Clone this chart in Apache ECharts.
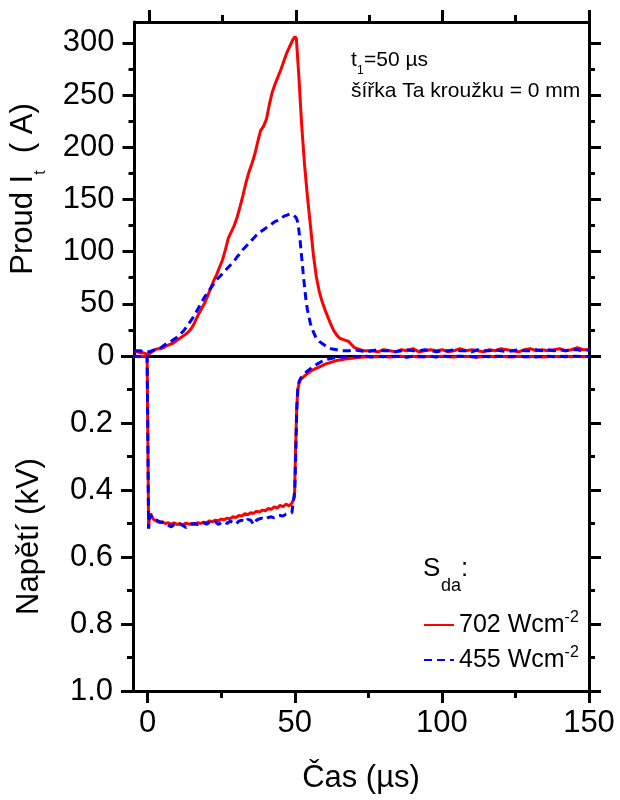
<!DOCTYPE html>
<html><head><meta charset="utf-8">
<script src="https://cdn.jsdelivr.net/npm/echarts@6/dist/echarts.min.js"></script>
<style>html,body{margin:0;padding:0;background:#fff}#c{width:620px;height:800px}</style>
</head><body><div id="c"></div>
<script>
const FONT = 'Liberation Sans, Arial, Helvetica, sans-serif';

// ---- tick positions / labels ----
const timeMajorTicks = [0, 50, 100, 150];
const timeMinorTicks = [25, 75, 125];
const timeTickLabels = [0, 50, 100, 150];
const currentMajorTicks = [0, 50, 100, 150, 200, 250, 300];
const currentMinorTicks = [25, 75, 125, 175, 225, 275];
const currentTickLabels = [0, 50, 100, 150, 200, 250, 300];
const voltageMajorTicks = [0, 0.2, 0.4, 0.6, 0.8, 1.0];
const voltageMinorTicks = [0.1, 0.3, 0.5, 0.7, 0.9];
const voltageTickLabels = [0.2, 0.4, 0.6, 0.8, 1.0];

// ---- series names ----
const nameRed = '702';
const nameBlue = '455';

// ---- current I_t (A) vs time (µs) ----
const currentRed = [[-5,5],[-4,4],[-3,3],[-2,3],[-1,2],[0,2],[1,4],[2,6],[3,7],[4,7],[5,8],[6,10],[7,11],[8,12],[9,14],[10,16],
[11,18],[12,20],[13,22],[14,25],[15,29],[16,35],[17,41],[18,46],[19,51],[20,58],[21,65],[22,72],[23,78],[24,85],[25,92],
[26,102],[27,113],[28,119],[29,125],[30,133],[31,143],[32,154],[33,166],[34,176],[35,184],[36,193],[37,205],[38,216],[39,220],
[40,227],[41,241],[42,253],[43,261],[44,268],[45,275],[46,283],[47,291],[48,297],[49,303],[49.7,306],[50.2,304],[51,270],
[52,222],[53,183],[54,152],[55,125],[56,97],[57,76],[58,62],[59,52],[60,44],[61,37],[62,30],[63,24],[64,20],[65,17],[66,16],
[67,15],[68,14],[69,11],[70,8],[71,7],[72,6],[73,5],[74,5],[76,5],[78,4],[80,6],[82,5],[84,4],[86,6],[88,5],[90,7],[92,4],
[94,5],[96,6],[98,5],[100,6],[102,4],[104,5],[106,7],[108,5],[110,6],[112,5],[114,4],[116,6],[118,5],[120,7],[122,6],[124,5],
[126,4],[128,6],[130,7],[132,5],[134,6],[136,5],[138,6],[140,7],[142,5],[144,6],[146,8],[148,6],[150,6]];

const currentBlue = [[-5,5],[-4,5],[-3,5],[-2,4],[-1,4],[0,4],[1,5],[2,6],[3,7],[4,8],[5,10],[6,12],[7,13],[8,15],[9,17],[10,19],
[11,22],[12,25],[13,29],[14,33],[15,37],[16,42],[17,47],[18,52],[19,57],[20,61],[21,65],[22,69],[23,73],[24,76],[25,79],
[26,82],[27,85],[28,88],[29,91],[30,95],[31,98],[32,102],[33,105],[34,108],[35,111],[36,114],[37,117],[38,119],[39,121],
[40,123],[41,125],[42,127],[43,129],[44,130],[45,132],[46,134],[47,135],[48,136],[49,135.5],[50,133],[50.5,130],[51,122],
[51.5,110],[52,95],[52.5,80],[53,66],[53.5,53],[54,44],[55,31],[56,23],[57,17],[58,14],[59,12],[60,10],[61,8],[62,7],[63,6.5],
[64,6],[66,5],[68,5],[70,6],[72,5],[74,4],[76,5],[78,6],[80,5],[82,5],[84,4],[86,5],[88,6],[90,5],[92,5],[94,6],[96,5],[98,4],
[100,5],[102,5],[104,6],[106,5],[108,5],[110,4],[112,6],[114,5],[116,5],[118,6],[120,5],[122,4],[124,5],[126,6],[128,5],
[130,5],[132,6],[134,5],[136,6],[138,5],[140,6],[142,5],[144,6],[146,6],[148,5],[150,6]];

// ---- voltage (kV) vs time (µs) ----
const voltageRed = [[-5,0.001],[-4,0],[-3,0.002],[-2,0],[-1,0.001],[-0.2,0],[0.1,0.3],[0.3,0.515],[0.6,0.48],[1,0.47],
[1.5,0.482],[2,0.488],[3,0.493],[4,0.497],[5,0.495],[6,0.5],[7,0.498],[8,0.502],[9,0.498],[10,0.503],[11,0.5],[12,0.504],
[13,0.499],[14,0.502],[15,0.5],[16,0.503],[17,0.498],[18,0.5],[19,0.496],[20,0.498],[21,0.492],[22,0.495],[23,0.49],
[24,0.492],[25,0.487],[26,0.489],[27,0.484],[28,0.486],[29,0.48],[30,0.482],[31,0.476],[32,0.478],[33,0.471],[34,0.474],
[35,0.468],[36,0.47],[37,0.463],[38,0.466],[39,0.46],[40,0.462],[41,0.455],[42,0.458],[43,0.45],[44,0.454],[45,0.446],
[46,0.45],[47,0.442],[48,0.447],[49,0.44],[49.6,0.445],[49.9,0.42],[50.2,0.3],[50.6,0.17],[51,0.1],[51.5,0.08],[52,0.07],
[53,0.062],[54,0.055],[55,0.048],[56,0.042],[57,0.038],[58,0.034],[59,0.03],[60,0.026],[61,0.022],[62,0.02],[63,0.017],
[64,0.014],[65,0.012],[66,0.011],[67,0.009],[68,0.008],[70,0.006],[72,0.004],[74,0.003],[76,0.002],[78,0.002],[80,0.001],
[82,0.003],[84,0.002],[86,0],[88,0.002],[90,0.001],[92,0.003],[94,0.002],[96,0.001],[98,0.002],[100,0],[102,0.002],
[104,0.003],[106,0.001],[108,0.002],[110,0.001],[112,0.003],[114,0.002],[116,0],[118,0.002],[120,0.001],[122,0.002],
[124,0.003],[126,0.001],[128,0.002],[130,0.002],[132,0.001],[134,0.003],[136,0.002],[138,0.001],[140,0.002],[142,0],
[144,0.002],[146,0.001],[148,0.002],[150,0.001]];

const voltageBlue = [[-5,0],[-3,0.001],[-1,0],[-0.2,0],[0.1,0.3],[0.3,0.515],[0.6,0.485],[1,0.475],[2,0.488],[3,0.49],
[4,0.495],[5,0.497],[6,0.5],[7,0.505],[8,0.51],[9,0.503],[10,0.5],[11,0.502],[12,0.506],[13,0.512],[14,0.505],[15,0.502],
[16,0.5],[17,0.503],[18,0.5],[19,0.498],[20,0.502],[21,0.497],[22,0.5],[23,0.495],[24,0.503],[25,0.497],[26,0.495],[27,0.5],
[28,0.493],[29,0.497],[30,0.502],[31,0.493],[32,0.49],[33,0.496],[34,0.488],[35,0.49],[36,0.503],[37,0.49],[38,0.486],
[39,0.484],[40,0.488],[41,0.482],[42,0.48],[43,0.483],[44,0.478],[45,0.476],[46,0.478],[47,0.472],[48,0.47],[49,0.468],
[49.6,0.465],[50,0.4],[50.3,0.3],[50.7,0.15],[51.1,0.09],[51.5,0.075],[52,0.066],[53,0.056],[54,0.047],[55,0.04],[56,0.033],
[57,0.027],[58,0.022],[59,0.017],[60,0.013],[61,0.01],[62,0.008],[63,0.006],[64,0.005],[66,0.003],[68,0.002],[70,0.001],
[72,0.002],[74,0],[76,0.003],[78,0.001],[80,0.002],[82,0],[84,0.001],[86,0.002],[88,0.004],[90,0.001],[92,0],[94,0.002],
[96,0.001],[98,0.003],[100,0],[102,0.001],[104,0.002],[106,0],[108,0.001],[110,0.002],[112,0.004],[114,0.001],[116,0.002],
[118,0],[120,0.001],[122,0.002],[124,0.001],[126,0],[128,0.002],[130,0.001],[132,0.003],[134,0.001],[136,0],[138,0.002],
[140,0.001],[142,0.002],[144,0],[146,0.001],[148,0.002],[150,0.001]];

const BLACK = '#000';
const AXLINE = {color: BLACK, width: 3};
const noSplit = {show: false};

function axisBase(extra) {
  return Object.assign({
    type: 'value', splitLine: noSplit,
    axisLine: {show: false, onZero: false, lineStyle: AXLINE},
    axisTick: {show: false},
    axisLabel: {show: false}
  }, extra);
}
function ticks(values, len) {
  return {show: true, inside: false, length: len, customValues: values, lineStyle: {color: BLACK, width: 3}};
}
const lineOn = {show: true, onZero: false, lineStyle: AXLINE};
const labelStyle = {color: BLACK, fontFamily: FONT, fontSize: 31};

const xBase = {min: -5, max: 150};
const yTop = {min: 0, max: 320};
const yBot = {min: 0, max: 1, inverse: true};

const option = {
  backgroundColor: '#fff',
  animation: false,
  grid: [
    {left: 133, top: 22, width: 456, height: 334, containLabel: false},
    {left: 133, top: 356, width: 456, height: 335, containLabel: false}
  ],
  xAxis: [
    axisBase(Object.assign({gridIndex: 0, position: 'bottom', axisLine: lineOn}, xBase)),
    axisBase(Object.assign({gridIndex: 0, position: 'top', axisLine: lineOn, axisTick: ticks(timeMajorTicks, 12)}, xBase)),
    axisBase(Object.assign({gridIndex: 0, position: 'top', axisTick: ticks(timeMinorTicks, 7)}, xBase)),
    axisBase(Object.assign({gridIndex: 1, position: 'bottom', axisLine: lineOn, axisTick: ticks(timeMajorTicks, 12),
      axisLabel: Object.assign({show: true, margin: 17, customValues: timeTickLabels}, labelStyle),
      name: 'Čas (µs)', nameLocation: 'middle', nameGap: 72,
      nameTextStyle: {color: BLACK, fontFamily: FONT, fontSize: 31}}, xBase)),
    axisBase(Object.assign({gridIndex: 1, position: 'bottom', axisTick: ticks(timeMinorTicks, 7)}, xBase))
  ],
  yAxis: [
    axisBase(Object.assign({gridIndex: 0, position: 'left', axisLine: lineOn, axisTick: ticks(currentMajorTicks, 12),
      axisLabel: Object.assign({show: true, margin: 20, customValues: currentTickLabels}, labelStyle),
      name: 'Proud I{sub|t}  ( A)', nameLocation: 'middle', nameGap: 86, nameRotate: 90,
      nameTextStyle: {color: BLACK, fontFamily: FONT, fontSize: 31,
        rich: {sub: {color: BLACK, fontFamily: FONT, fontSize: 16, padding: [34, 0, 0, 0], verticalAlign: 'bottom'}}}}, yTop)),
    axisBase(Object.assign({gridIndex: 0, position: 'left', axisTick: ticks(currentMinorTicks, 6)}, yTop)),
    axisBase(Object.assign({gridIndex: 0, position: 'right', axisLine: lineOn, axisTick: ticks(currentMajorTicks, 12)}, yTop)),
    axisBase(Object.assign({gridIndex: 0, position: 'right', axisTick: ticks(currentMinorTicks, 6)}, yTop)),
    axisBase(Object.assign({gridIndex: 1, position: 'left', axisLine: lineOn, axisTick: ticks(voltageMajorTicks, 12),
      axisLabel: Object.assign({show: true, margin: 20, customValues: voltageTickLabels,
        formatter: v => Number(v).toFixed(1)}, labelStyle),
      name: 'Napětí (kV)', nameLocation: 'middle', nameGap: 88, nameRotate: 90,
      nameTextStyle: {color: BLACK, fontFamily: FONT, fontSize: 31, padding: [0, 26, 0, 0]}}, yBot)),
    axisBase(Object.assign({gridIndex: 1, position: 'left', axisTick: ticks(voltageMinorTicks, 6)}, yBot)),
    axisBase(Object.assign({gridIndex: 1, position: 'right', axisLine: lineOn, axisTick: ticks(voltageMajorTicks, 12)}, yBot)),
    axisBase(Object.assign({gridIndex: 1, position: 'right', axisTick: ticks(voltageMinorTicks, 6)}, yBot))
  ],
  legend: {
    data: [nameRed, nameBlue], orient: 'vertical', left: 418, top: 605,
    itemWidth: 30, itemHeight: 14, itemGap: 5, selectedMode: false,
    itemStyle: {opacity: 0, borderWidth: 0},
    formatter: n => n + ' Wcm{sup|-2}',
    textStyle: {color: BLACK, fontFamily: FONT, fontSize: 25, lineHeight: 30,
      rich: {sup: {color: BLACK, fontFamily: FONT, fontSize: 16, lineHeight: 16, verticalAlign: 'top'}}}
  },
  graphic: [
    {type: 'text', x: 351, y: 60, style: {text: 't', font: '21px ' + FONT, fill: BLACK, verticalAlign: 'middle'}},
    {type: 'text', x: 357, y: 71, style: {text: '1', font: '12px ' + FONT, fill: BLACK, verticalAlign: 'middle'}},
    {type: 'text', x: 364, y: 60, style: {text: '=50 µs', font: '21px ' + FONT, fill: BLACK, verticalAlign: 'middle'}},
    {type: 'text', x: 351, y: 91, style: {text: 'šířka Ta kroužku = 0 mm', font: '21px ' + FONT, fill: BLACK, verticalAlign: 'middle'}},
    {type: 'text', x: 423, y: 569, style: {text: 'S', font: '26px ' + FONT, fill: BLACK, verticalAlign: 'middle'}},
    {type: 'text', x: 441, y: 586, style: {text: 'da', font: '18px ' + FONT, fill: BLACK, verticalAlign: 'middle'}},
    {type: 'text', x: 461, y: 569, style: {text: ':', font: '26px ' + FONT, fill: BLACK, verticalAlign: 'middle'}}
  ],
  series: [
    {type: 'line', name: nameRed, xAxisIndex: 0, yAxisIndex: 0, data: currentRed, symbol: 'none',
      lineStyle: {color: '#ff0000', width: 3}, itemStyle: {color: '#ff0000'}, z: 3},
    {type: 'line', name: nameRed, xAxisIndex: 3, yAxisIndex: 4, data: voltageRed, symbol: 'none',
      lineStyle: {color: '#ff0000', width: 3}, itemStyle: {color: '#ff0000'}, z: 3},
    {type: 'line', name: nameBlue, xAxisIndex: 0, yAxisIndex: 0, data: currentBlue, symbol: 'none',
      lineStyle: {color: '#0000ff', width: 3, type: [8, 5]}, itemStyle: {color: '#0000ff'}, z: 4},
    {type: 'line', name: nameBlue, xAxisIndex: 3, yAxisIndex: 4, data: voltageBlue, symbol: 'none',
      lineStyle: {color: '#0000ff', width: 3, type: [8, 5]}, itemStyle: {color: '#0000ff'}, z: 4}
  ]
};

const chart = echarts.init(document.getElementById('c'), null, {renderer: 'canvas'});
chart.setOption(option);
</script>
</body></html>
